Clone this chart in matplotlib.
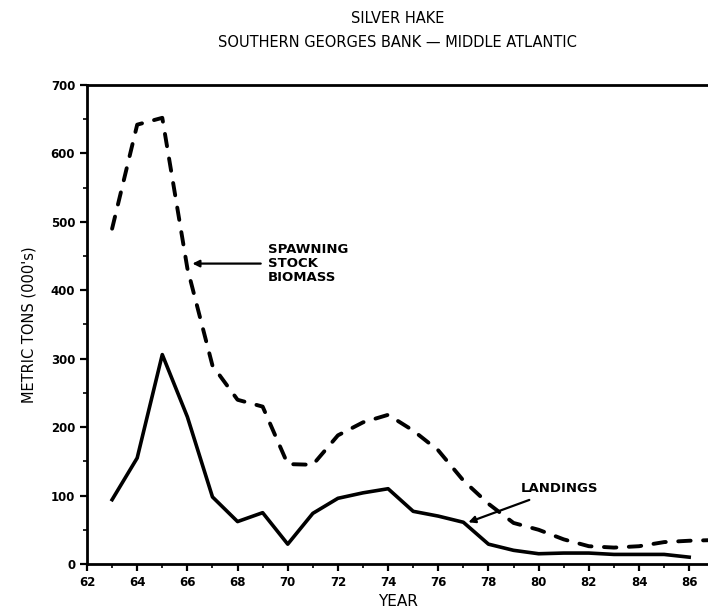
import matplotlib.pyplot as plt
from matplotlib.ticker import MultipleLocator

# values (thousand metric tons)
years = [63, 64, 65, 66, 67, 68, 69, 70, 71, 72, 73, 74, 75, 76, 77, 78,
         79, 80, 81, 82, 83, 84, 85, 86]
landings = [94, 155, 306, 215, 98, 62, 75, 29, 74, 96, 104, 110, 77, 70,
            61, 29, 20, 15, 16, 16, 14, 14, 14, 10]

ssb_years = [63, 64, 65, 66, 67, 68, 69, 70, 71, 72, 73, 74, 75, 76, 77,
             78, 79, 80, 81, 82, 83, 84, 85, 86, 87]
ssb = [490, 642, 652, 432, 290, 240, 230, 146, 145, 188, 207, 218, 195,
       166, 122, 88, 60, 50, 36, 26, 24, 26, 32, 34, 35]

xticks = list(range(62, 87, 2))
yticks = list(range(0, 701, 100))

fig = plt.figure(figsize=(7.08, 6.10), dpi=100)
ax = fig.add_axes([0.1229, 0.0754, 0.8771, 0.7853])

ax.plot(years, landings, color='black', lw=2.6, solid_joinstyle='round')
ax.plot(ssb_years, ssb, color='black', lw=2.8, linestyle=(0, (3.2, 3.2)),
        dash_capstyle='round')

ax.set_xlim(62, 86.75)
ax.set_ylim(0, 700)
ax.set_xticks(xticks)
ax.set_yticks(yticks)
ax.xaxis.set_minor_locator(MultipleLocator(1))
ax.yaxis.set_minor_locator(MultipleLocator(50))
ax.tick_params(axis='both', which='major', direction='out', length=5, width=1.6,
               labelsize=8.5)
ax.tick_params(axis='both', which='minor', direction='out', length=3, width=1.2)
for lab in ax.get_xticklabels() + ax.get_yticklabels():
    lab.set_fontweight('bold')

for side in ['left', 'bottom', 'top']:
    ax.spines[side].set_linewidth(2)
ax.spines['right'].set_visible(False)

ax.set_xlabel('YEAR', fontsize=11, labelpad=4)
ax.set_ylabel("METRIC TONS (000's)", fontsize=10.5, labelpad=10)

fig.text(0.562, 0.97, 'SILVER HAKE', ha='center', va='center', fontsize=10.5)
fig.text(0.562, 0.93, 'SOUTHERN GEORGES BANK \u2014 MIDDLE ATLANTIC',
         ha='center', va='center', fontsize=10.5)

ax.annotate('SPAWNING\nSTOCK\nBIOMASS', xy=(66.2, 439), xytext=(69.2, 439),
            ha='left', va='center', fontsize=9.5, linespacing=1.1,
            fontweight='semibold',
            arrowprops=dict(arrowstyle='-|>', color='black', lw=1.6,
                            shrinkA=3, shrinkB=0, mutation_scale=10))
ax.annotate('LANDINGS', xy=(77.2, 61), xytext=(79.3, 110),
            ha='left', va='center', fontsize=9.5, fontweight='semibold',
            arrowprops=dict(arrowstyle='-|>', color='black', lw=1.6,
                            shrinkA=4, shrinkB=0, mutation_scale=10))

fig.savefig('out.png', dpi=100)
